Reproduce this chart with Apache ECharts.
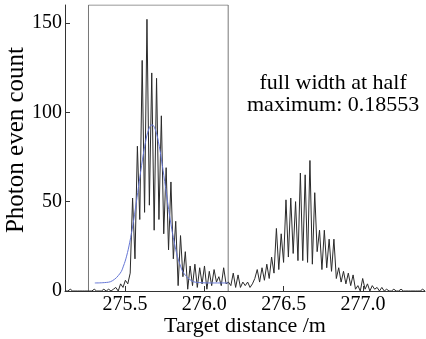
<!DOCTYPE html>
<html>
<head>
<meta charset="utf-8">
<script src="https://cdn.jsdelivr.net/npm/echarts@6/dist/echarts.min.js"></script>
<style>
html,body{margin:0;padding:0;background:#fff;}
#chart{width:426px;height:339px;}
</style>
</head>
<body>
<div id="chart"></div>
<script>
// Measured photon histogram (target distance in m, photon event counts)
const distance = [
275.1250,275.1401,275.1552,275.1703,275.1854,275.2005,275.2156,275.2307,275.2458,275.2609,
275.2760,275.2911,275.3062,275.3213,275.3364,275.3515,275.3666,275.3817,275.3968,275.4119,
275.4270,275.4421,275.4572,275.4723,275.4874,275.5025,275.5176,275.5327,275.5478,275.5629,
275.5780,275.5931,275.6082,275.6233,275.6384,275.6535,275.6686,275.6837,275.6988,275.7139,
275.7290,275.7441,275.7592,275.7743,275.7894,275.8045,275.8196,275.8347,275.8498,275.8649,
275.8800,275.8951,275.9102,275.9253,275.9404,275.9555,275.9706,275.9857,276.0008,276.0159,
276.0310,276.0461,276.0612,276.0763,276.0914,276.1065,276.1216,276.1367,276.1518,276.1669,
276.1820,276.1971,276.2122,276.2273,276.2424,276.2575,276.2726,276.2877,276.3028,276.3179,
276.3330,276.3481,276.3632,276.3783,276.3934,276.4085,276.4236,276.4387,276.4538,276.4689,
276.4840,276.4991,276.5142,276.5293,276.5444,276.5595,276.5746,276.5897,276.6048,276.6199,
276.6350,276.6501,276.6652,276.6803,276.6954,276.7105,276.7256,276.7407,276.7558,276.7709,
276.7860,276.8011,276.8162,276.8313,276.8464,276.8615,276.8766,276.8917,276.9068,276.9219,
276.9370,276.9521,276.9672,276.9823,276.9974,277.0125,277.0276,277.0427,277.0578,277.0729,
277.0880,277.1031,277.1182,277.1333,277.1484,277.1635,277.1786,277.1937,277.2088,277.2239,
277.2390,277.2541,277.2692,277.2843,277.2994,277.3145,277.3296,277.3447,277.3598,277.3749,
277.3900
];
const photonCount = [
0,0,1,0,0,0,0,0,0,0,
0,0,1,0,0,0,1,0,1,0,
1,2,0,4,2,6,4,10,52,18,
81,40,129,44,152,48,122,34,119,40,
98,32,69,23,61,18,39,3,31,8,
22,1,14,3,15,2,13,4,14,1,
11,3,12,5,8,3,13,4,5,3,
10,2,9,2,5,3,5,2,4,7,
12,5,13,6,15,7,19,10,35,12,
32,16,51,19,52,21,50,17,66,17,
65,16,73,15,55,22,34,12,34,13,
29,11,29,7,13,5,11,4,10,3,
9,1,3,0,7,1,4,0,3,1,
2,0,2,0,1,0,0,1,0,0,
1,0,0,0,0,0,0,0,0,1,
0
];
// Gaussian fit curve
const fitDistance = [275.31,275.37,275.42,275.47,275.49,275.51,275.53,275.55,275.57,275.59,275.61,275.63,275.65,275.67,
  275.69,275.71,275.73,275.75,275.77,275.79,275.81,275.83,275.85,275.87,275.92,275.97,276.05,276.15];
const fitCount = [4.5,4.7,5.7,10.0,13.9,19.5,27.3,37.1,48.8,61.3,73.4,83.7,90.6,93,
  90.6,83.7,73.4,61.3,48.8,37.1,27.3,19.5,13.9,10.0,5.7,4.7,4.5,4.5];
// Selection box
const boxDistance = [275.27, 275.27, 276.15, 276.15];
const boxCount = [0, 160, 160, 0];
// Axis ticks
const xTicks = [275.5, 276.0, 276.5, 277.0];
const yTicks = [0, 50, 100, 150];
const annotation = 'full width at half\nmaximum: 0.18553';

const zip = (a, b) => a.map((v, i) => [v, b[i]]);
const FONT = '"Liberation Serif", "Times New Roman", serif';

const chart = echarts.init(document.getElementById('chart'), null, {renderer: 'canvas'});
chart.setOption({
  animation: false,
  backgroundColor: '#fff',
  grid: {left: 65, right: 1, top: 5, bottom: 48, containLabel: false, outerBoundsMode: 'none'},
  xAxis: {
    type: 'value', min: 275.122, max: 277.39,
    name: 'Target distance /m', nameLocation: 'middle', nameGap: 24, nameMoveOverlap: false,
    nameTextStyle: {fontFamily: FONT, fontSize: 22, color: '#000'},
    axisLine: {show: true, lineStyle: {color: '#333', width: 1}},
    axisTick: {show: true, inside: true, length: 5, customValues: xTicks, lineStyle: {color: '#333'}},
    axisLabel: {customValues: xTicks, margin: 4, fontFamily: FONT, fontSize: 20, color: '#000',
      formatter: v => Number(v).toFixed(1)},
    splitLine: {show: false}
  },
  yAxis: {
    type: 'value', min: 0, max: 160,
    name: 'Photon even count', nameLocation: 'middle', nameGap: 36, nameMoveOverlap: false,
    nameTextStyle: {fontFamily: FONT, fontSize: 25, color: '#000', padding: [0, 0, 0, 16]},
    axisLine: {show: true, lineStyle: {color: '#333', width: 1}},
    axisTick: {show: true, inside: true, length: 5, customValues: yTicks, lineStyle: {color: '#333'}},
    axisLabel: {customValues: yTicks, margin: 3, fontFamily: FONT, fontSize: 20, color: '#000'},
    splitLine: {show: false}
  },
  series: [
    {type: 'line', data: zip(boxDistance, boxCount), symbol: 'none', silent: true,
      lineStyle: {color: '#777', width: 1}},
    {type: 'line', data: zip(distance, photonCount), symbol: 'none', silent: true,
      lineStyle: {color: '#2a2a2a', width: 1}},
    {type: 'line', data: zip(fitDistance, fitCount), symbol: 'none', smooth: 0.4, silent: true,
      lineStyle: {color: '#6677d6', width: 1}}
  ],
  graphic: [{
    type: 'text', left: 333 - 86, top: 72,
    style: {text: annotation, font: '22px ' + FONT, fill: '#000', textAlign: 'center', lineHeight: 22, width: 172}
  }]
});
</script>
</body>
</html>
